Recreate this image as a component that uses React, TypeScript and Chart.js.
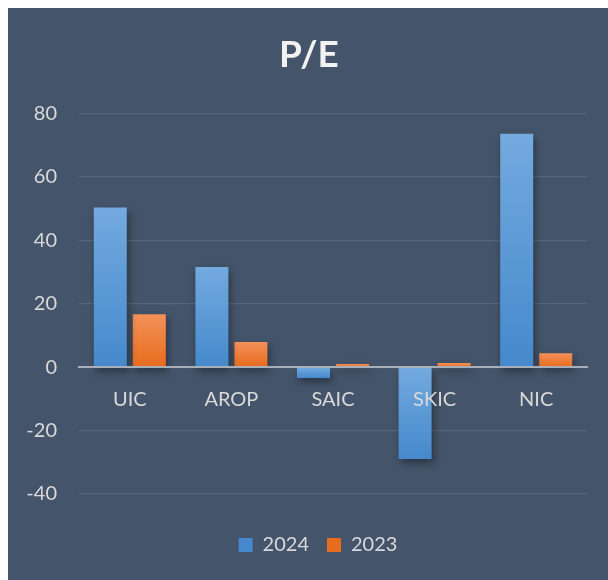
import React, { useEffect, useRef } from 'react';
import { Chart, registerables } from 'chart.js';

Chart.register(...registerables);

const categories = ['UIC', 'AROP', 'SAIC', 'SKIC', 'NIC'];
const seriesNames = ['2024', '2023'];
const values2024 = [50.3, 31.6, -3.4, -29, 73.6];
const values2023 = [16.7, 7.9, 1.0, 1.3, 4.4];
const yMin = -40;
const yMax = 80;
const yStep = 20;

const FONT = "Lato, 'Open Sans', sans-serif";
const TEXT = '#d9d9d9';

function barGradient(top: string, bottom: string, mid: string) {
  return (c: any) => {
    const chart = c.chart;
    if (c.type !== 'data' || !chart.chartArea || !chart.scales.y) return mid;
    const v = c.raw as number;
    const ys = chart.scales.y;
    const p1 = ys.getPixelForValue(v);
    const p0 = ys.getPixelForValue(0);
    const t = Math.min(p1, p0);
    const b = Math.max(p1, p0);
    if (b - t < 1) return top;
    const g = chart.ctx.createLinearGradient(0, t, 0, b);
    g.addColorStop(0, top);
    g.addColorStop(1, bottom);
    return g;
  };
}

const shadowPlugin = {
  id: 'barShadow',
  beforeDatasetsDraw(chart: any) {
    const ctx = chart.ctx;
    ctx.save();
    ctx.shadowColor = 'rgba(0,0,0,0.38)';
    ctx.shadowBlur = 8;
    ctx.shadowOffsetX = 2;
    ctx.shadowOffsetY = 4;
  },
  afterDatasetsDraw(chart: any) {
    chart.ctx.restore();
  },
};

function centerBox(box: any, target: number) {
  if (!box) return;
  const d = target - (box.left + box.right) / 2;
  box.left += d;
  box.right += d;
}

const boxShiftPlugin = {
  id: 'boxShift',
  afterLayout(chart: any) {
    centerBox(chart.legend, 310);
    centerBox(chart.titleBlock, 301);
  },
};

export default function App() {
  const ref = useRef<HTMLCanvasElement>(null);

  useEffect(() => {
    if (!ref.current) return;
    const chart = new Chart(ref.current, {
      type: 'bar',
      data: {
        labels: categories,
        datasets: [
          {
            label: seriesNames[0],
            data: values2024,
            xAxisID: 'x',
            backgroundColor: barGradient('#73aadf', '#4589cc', '#5b9bd5'),
            borderWidth: 0,
            categoryPercentage: 0.768,
            barPercentage: 0.846,
          },
          {
            label: seriesNames[1],
            data: values2023,
            xAxisID: 'x',
            backgroundColor: barGradient('#f39159', '#e86c1d', '#ed7d31'),
            borderWidth: 0,
            categoryPercentage: 0.768,
            barPercentage: 0.846,
          },
        ],
      },
      options: {
        responsive: true,
        maintainAspectRatio: false,
        animation: false,
        events: [],
        layout: { padding: { left: 0, right: 21, top: 0, bottom: 15 } },
        plugins: {
          title: {
            display: true,
            text: 'P/E',
            color: '#f2f2f2',
            font: { family: FONT, size: 37, weight: 'bold', lineHeight: 1.2 },
            padding: { top: 25, bottom: 36 },
          },
          legend: {
            display: true,
            position: 'bottom',
            labels: {
              color: TEXT,
              font: { family: FONT, size: 20 },
              boxWidth: 14,
              boxHeight: 14,
              padding: 18,
            },
          },
          tooltip: { enabled: false },
        },
        scales: {
          x: {
            type: 'category',
            position: { y: 0 } as any,
            grid: { display: false },
            border: { display: true, color: '#a9afb8', width: 2, z: 1 },
            ticks: {
              color: TEXT,
              font: { family: FONT, size: 20 },
              padding: 12,
              z: 1,
            },
          },
          x2: {
            type: 'category',
            position: 'bottom',
            labels: categories,
            grid: { display: false },
            border: { display: false },
            ticks: { display: false },
            afterFit: (s: any) => {
              s.height = 23;
            },
          },
          y: {
            type: 'linear',
            min: yMin,
            max: yMax,
            ticks: {
              stepSize: yStep,
              color: TEXT,
              font: { family: FONT, size: 20 },
              padding: 22,
            },
            grid: { color: '#56667c', lineWidth: 1.2, drawTicks: false },
            border: { display: false },
            afterFit: (s: any) => {
              s.width = 71;
            },
          },
        },
      },
      plugins: [shadowPlugin, boxShiftPlugin],
    } as any);
    return () => chart.destroy();
  }, []);

  return (
    <div
      style={{
        position: 'absolute',
        left: 8,
        top: 8,
        width: 600,
        height: 572,
        background: '#44546a',
      }}
    >
      <canvas ref={ref} />
    </div>
  );
}
